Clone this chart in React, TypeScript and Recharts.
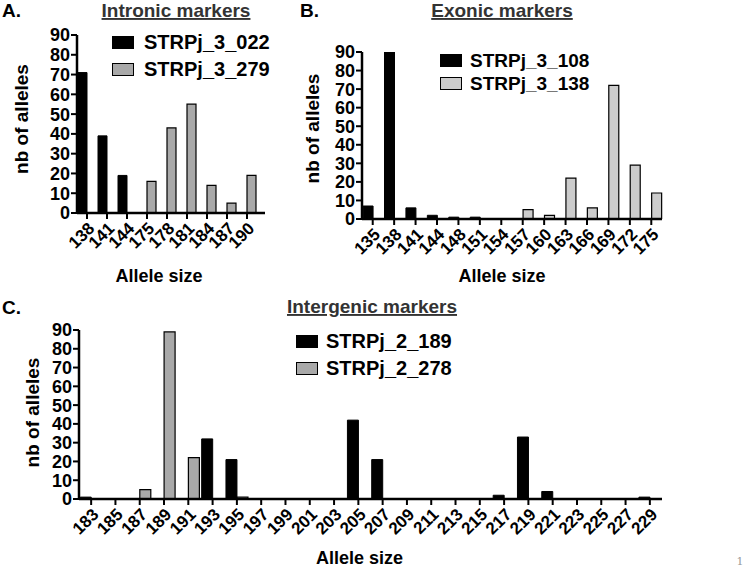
import React from 'react';
import { BarChart, Bar, XAxis, YAxis, Legend } from 'recharts';

const FONT = '"Liberation Sans", Arial, Helvetica, sans-serif';

// shared y ticks
const yTicks = [0, 10, 20, 30, 40, 50, 60, 70, 80, 90];

// A. Intronic markers
const intronicSizes = ['138', '141', '144', '175', '178', '181', '184', '187', '190'];
const strp3_022 = [71, 39, 19, null, null, null, null, null, null];
const strp3_279 = [null, null, null, 16, 43, 55, 14, 5, 19];

// B. Exonic markers
const exonicSizes = ['135', '138', '141', '144', '148', '151', '154', '157', '160', '163', '166', '169', '172', '175'];
const strp3_108 = [7, 90, 6, 2, 1, 1, null, null, null, null, null, null, null, null];
const strp3_138 = [null, null, null, null, null, null, null, 5, 2, 22, 6, 72, 29, 14];

// C. Intergenic markers
const intergenicSizes = ['183', '185', '187', '189', '191', '193', '195', '197', '199', '201', '203', '205',
  '207', '209', '211', '213', '215', '217', '219', '221', '223', '225', '227', '229'];
const strp2_189 = [1, null, null, null, null, 32, 21, null, null, null, null, 42,
  21, null, null, null, null, 2, 33, 4, null, null, null, 1];
const strp2_278 = [null, null, 5, 89, 22, null, 1, null, null, null, null, null,
  null, null, null, null, null, null, null, null, null, null, null, null];

const toRows = (sizes: string[], a: (number | null)[], b: (number | null)[]) =>
  sizes.map((size, i) => ({ size, a: a[i], b: b[i] }));

const makeLegend = (rowH: number, fontSize: number, gap: number) => ({ payload }: any) => (
  <div style={{ fontFamily: FONT }}>
    {(payload || []).map((entry: any, i: number) => (
      <div key={i} style={{ display: 'flex', alignItems: 'center', height: rowH }}>
        <span style={{
          display: 'inline-block', width: 22, height: 13, boxSizing: 'border-box',
          background: entry.color, border: '1.5px solid #000'
        }} />
        <span style={{ marginLeft: gap, fontWeight: 'bold', fontSize, color: '#000' }}>{entry.value}</span>
      </div>
    ))}
  </div>
);

function Panel(props: any) {
  const { data, names, grey, width, height, margin, padRight, xHeight, legendPos, legend, xLabel, yLabel } = props;
  return (
    <BarChart width={width} height={height} data={data} margin={margin} barGap={0} barCategoryGap="5%">
      <XAxis
        dataKey="size"
        interval={0}
        height={xHeight}
        padding={{ left: 0, right: padRight }}
        axisLine={{ stroke: '#000', strokeWidth: 2.5 }}
        tickLine={{ stroke: '#000', strokeWidth: 2 }}
        tickSize={6}
        angle={-45}
        textAnchor="end"
        tick={{ fill: '#000', fontSize: 17, fontWeight: 'bold', angle: -45, textAnchor: 'end' }}
        label={{ value: 'Allele size', position: 'insideBottom', offset: xLabel.offset, dx: xLabel.dx, fontSize: 18, fontWeight: 'bold', fill: '#000' }}
      />
      <YAxis
        domain={[0, 90]}
        ticks={yTicks}
        interval={0}
        width={50}
        allowDataOverflow
        axisLine={{ stroke: '#000', strokeWidth: 2.5 }}
        tickLine={{ stroke: '#000', strokeWidth: 2 }}
        tickSize={6}
        tickMargin={1}
        tick={{ fill: '#000', fontSize: 18, fontWeight: 'bold' }}
        label={{ value: 'nb of alleles', angle: -90, position: 'center', dx: yLabel.dx, dy: yLabel.dy, fontSize: 19, fontWeight: 'bold', fill: '#000' }}
      />
      <Legend
        layout="vertical"
        align="center"
        verticalAlign="middle"
        wrapperStyle={{ left: legendPos.left, top: legendPos.top, width: 'auto', height: 'auto' }}
        content={makeLegend(legend.rowH, legend.fontSize, legend.gap)}
      />
      <Bar dataKey="a" name={names[0]} fill="#000" stroke="#000" strokeWidth={1} isAnimationActive={false} />
      <Bar dataKey="b" name={names[1]} fill={grey} stroke="#000" strokeWidth={1.2} isAnimationActive={false} />
    </BarChart>
  );
}

export default function App() {
  const titleStyle = { fontSize: 19, fontWeight: 'bold', fill: '#333', textDecoration: 'underline' } as any;
  const letterStyle = { fontSize: 19, fontWeight: 'bold', fill: '#000' } as any;
  return (
    <div style={{ position: 'absolute', left: 0, top: 0, width: 745, height: 569, background: '#fff', overflow: 'hidden', fontFamily: FONT }}>
      <div style={{ position: 'absolute', left: 0, top: 0 }}>
        <Panel
          data={toRows(intronicSizes, strp3_022, strp3_279)}
          names={['STRPj_3_022', 'STRPj_3_279']}
          grey="#a9a9a9"
          width={290} height={290}
          margin={{ top: 35, right: 25, bottom: 7, left: 27 }}
          padRight={8}
          xHeight={70}
          xLabel={{ offset: 1, dx: -12 }}
          yLabel={{ dx: -31, dy: -5 }}
          legendPos={{ left: 112, top: 29 }}
          legend={{ rowH: 27, fontSize: 20, gap: 10 }}
        />
      </div>
      <div style={{ position: 'absolute', left: 290, top: 0 }}>
        <Panel
          data={toRows(exonicSizes, strp3_108, strp3_138)}
          names={['STRPj_3_108', 'STRPj_3_138']}
          grey="#cccccc"
          width={455} height={290}
          margin={{ top: 52, right: 83, bottom: 1, left: 22 }}
          padRight={0}
          xHeight={70}
          xLabel={{ offset: 7, dx: -10 }}
          yLabel={{ dx: -25, dy: -7 }}
          legendPos={{ left: 150, top: 49 }}
          legend={{ rowH: 23, fontSize: 19, gap: 8 }}
        />
      </div>
      <div style={{ position: 'absolute', left: 0, top: 285 }}>
        <Panel
          data={toRows(intergenicSizes, strp2_189, strp2_278)}
          names={['STRPj_2_189', 'STRPj_2_278']}
          grey="#a9a9a9"
          width={745} height={284}
          margin={{ top: 45, right: 83, bottom: 5, left: 29 }}
          padRight={0}
          xHeight={65}
          xLabel={{ offset: 0, dx: -11 }}
          yLabel={{ dx: -22, dy: -2 }}
          legendPos={{ left: 296, top: 43 }}
          legend={{ rowH: 27, fontSize: 20, gap: 8 }}
        />
      </div>
      <svg width={745} height={569} style={{ position: 'absolute', left: 0, top: 0, pointerEvents: 'none' }}>
        <text x={2} y={17} style={letterStyle}>A.</text>
        <text x={176} y={17} textAnchor="middle" style={titleStyle}>Intronic markers</text>
        <text x={300} y={17} style={letterStyle}>B.</text>
        <text x={502} y={17} textAnchor="middle" style={titleStyle}>Exonic markers</text>
        <text x={2} y={314} style={letterStyle}>C.</text>
        <text x={372} y={313} textAnchor="middle" style={titleStyle}>Intergenic markers</text>
        <text x={740} y={565} textAnchor="middle" style={{ fontSize: 11, fill: '#999', fontFamily: '"DejaVu Serif", serif' }}>1</text>
      </svg>
    </div>
  );
}
